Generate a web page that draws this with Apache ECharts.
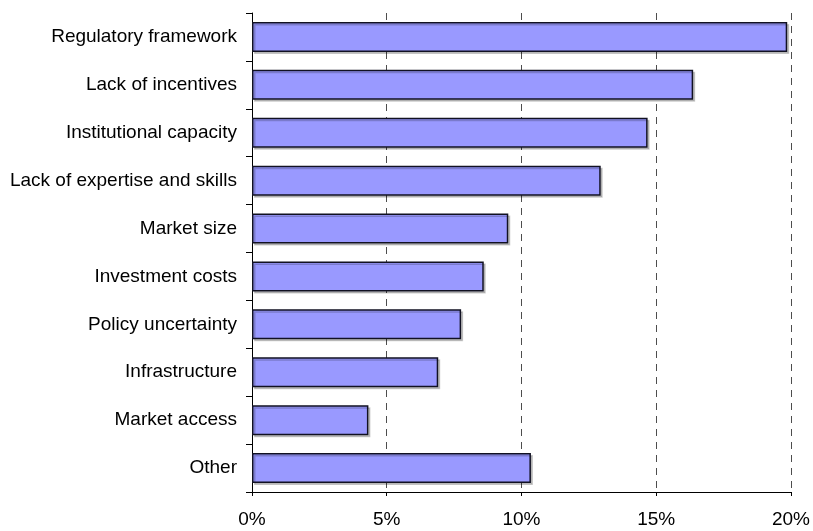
<!DOCTYPE html>
<html>
<head>
<meta charset="utf-8">
<script src="https://cdn.jsdelivr.net/npm/echarts@6/dist/echarts.min.js"></script>
<style>
	html, body { margin: 0; padding: 0; background: #fff; }
	#chart { width: 813px; height: 531px; }
</style>
</head>
<body>
<div id="chart"></div>
<script>
	// barriers, top to bottom as drawn
	var categories = ['Regulatory framework', 'Lack of incentives', 'Institutional capacity',
		'Lack of expertise and skills', 'Market size', 'Investment costs',
		'Policy uncertainty', 'Infrastructure', 'Market access', 'Other'];
	// share of responses, %
	var shares = [19.86, 16.37, 14.68, 12.94, 9.51, 8.60, 7.76, 6.91, 4.32, 10.35];
	var xTicks = [0, 5, 10, 15, 20];

	var chart = echarts.init(document.getElementById('chart'));
	var font = 'Liberation Sans, Arial, sans-serif';

	var option = {
		animation: false,
		grid: {
			left: 252,
			right: 20,
			top: 13,
			bottom: 39
		},
		xAxis: {
			type: 'value',
			min: xTicks[0],
			max: xTicks[xTicks.length - 1],
			interval: xTicks[1] - xTicks[0],
			axisLine: { show: true, lineStyle: { color: '#000', width: 1 } },
			axisTick: { show: true, length: 4, lineStyle: { color: '#000' } },
			axisLabel: {
				formatter: '{value}%',
				color: '#000',
				fontSize: 19,
				fontFamily: font,
				margin: 18
			},
			splitLine: {
				show: true,
				lineStyle: { color: '#4d4d4d', type: [7, 6], width: 1 }
			}
		},
		yAxis: {
			type: 'category',
			inverse: true,
			data: categories,
			axisLine: { show: true, lineStyle: { color: '#000', width: 1 } },
			axisTick: { show: true, length: 6, lineStyle: { color: '#000' } },
			axisLabel: {
				color: '#000',
				fontSize: 19,
				fontFamily: font,
				margin: 15
			},
			splitLine: { show: false }
		},
		series: [{
			type: 'bar',
			data: shares,
			barWidth: 30,
			itemStyle: {
				color: '#9999ff',
				borderColor: '#111122',
				borderWidth: 1.5,
				shadowColor: 'rgba(0,0,0,0.2)',
				shadowOffsetX: 2,
				shadowOffsetY: 2,
				shadowBlur: 0
			}
		}]
	};
	chart.setOption(option);
	window.addEventListener('resize', function() {
		chart.resize();
	});
</script>
</body>
</html>
